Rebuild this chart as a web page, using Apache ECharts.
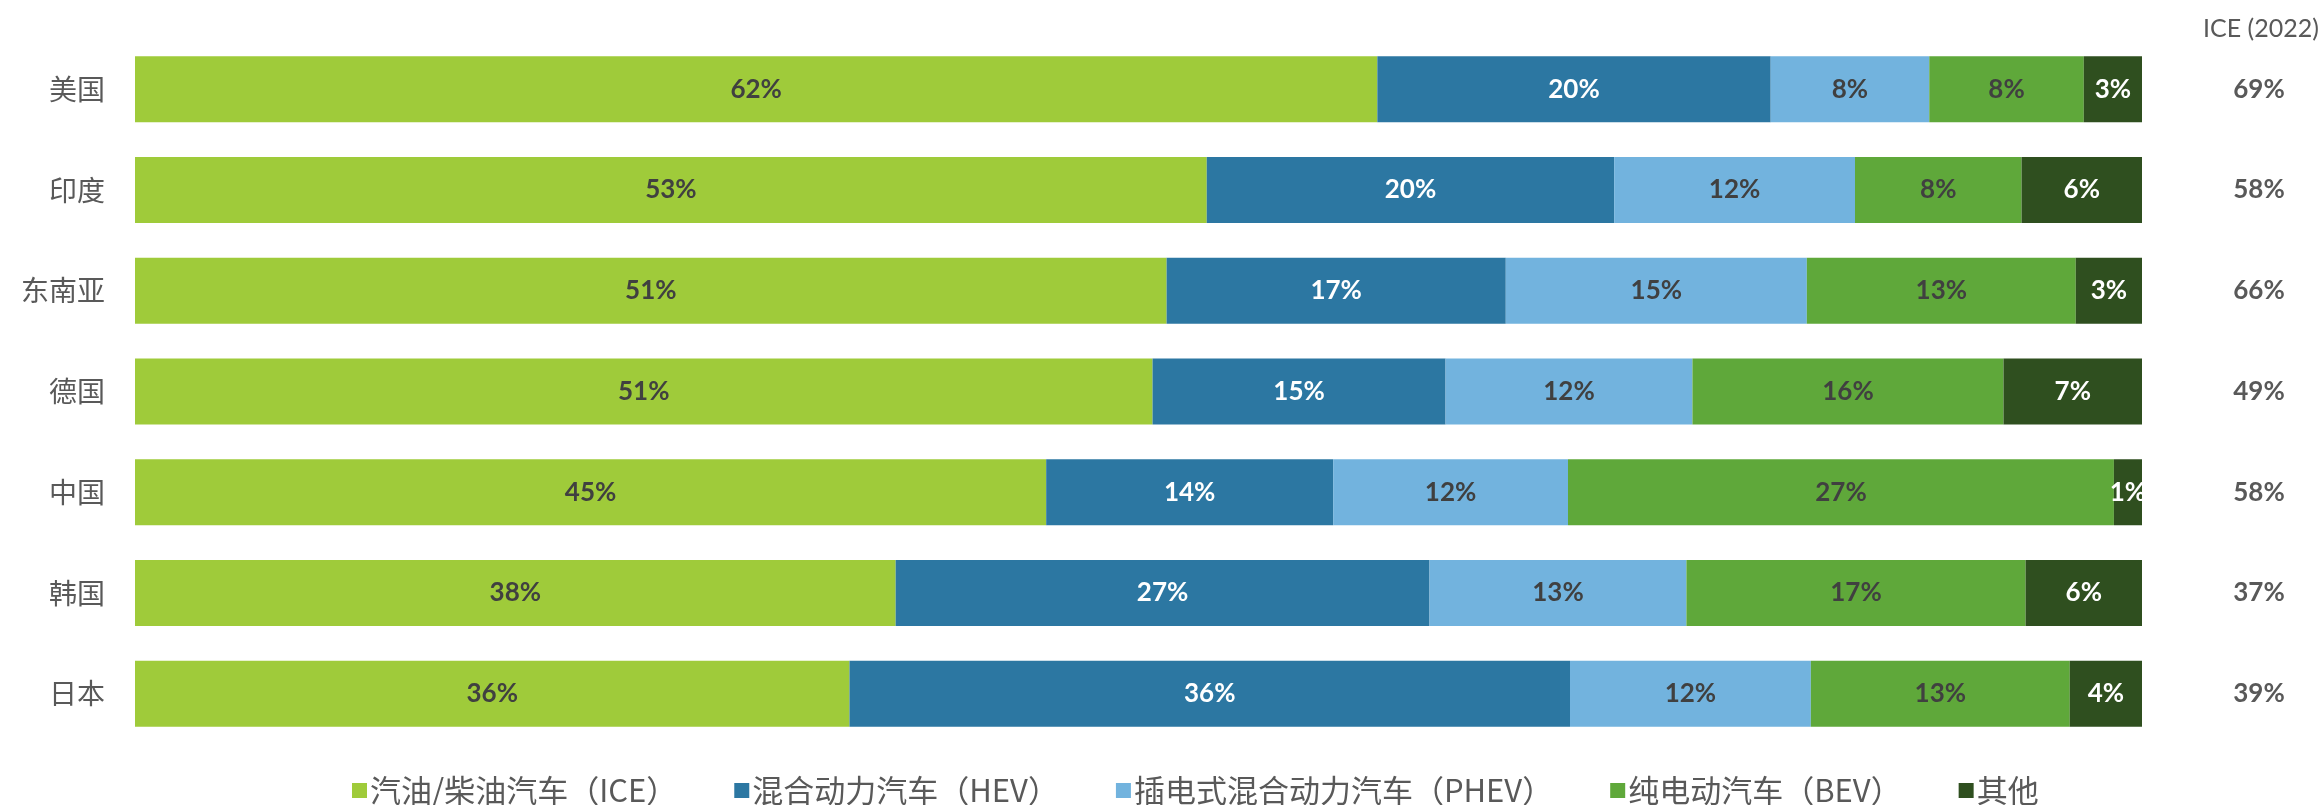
<!DOCTYPE html>
<html>
<head>
<meta charset="utf-8">
<script src="https://cdn.jsdelivr.net/npm/echarts@6/dist/echarts.min.js"></script>
<style>
html,body{margin:0;padding:0;background:#fff;}
#c{width:2318px;height:805px;}
</style>
</head>
<body>
<div id="c"></div>
<script>
const categories = ['美国','印度','东南亚','德国','中国','韩国','日本'];
const seriesNames = ['汽油/柴油汽车（ICE）','混合动力汽车（HEV）','插电式混合动力汽车（PHEV）','纯电动汽车（BEV）','其他'];
const ice   = [61.9, 53.4, 51.4, 50.7, 45.4, 37.9, 35.6];
const hev   = [19.6, 20.3, 16.9, 14.6, 14.3, 26.6, 35.9];
const phev  = [7.9, 12.0, 15.0, 12.3, 11.7, 12.8, 12.0];
const bev   = [7.7, 8.3, 13.4, 15.5, 27.2, 16.9, 12.9];
const other = [2.9, 6.0, 3.3, 6.9, 1.4, 5.8, 3.6];
const ice2022 = [69, 58, 66, 49, 58, 37, 39];
const ice2022Title = 'ICE (2022)';

const colors = ['#9FCB3A', '#2C77A2', '#72B3DE', '#5FA83A', '#2F4F1F'];
const labelColors = ['#404040', '#FFFFFF', '#404040', '#404040', '#FFFFFF'];
const values = [ice, hev, phev, bev, other];

const chart = echarts.init(document.getElementById('c'), null, {renderer: 'canvas'});
const series = values.map((v, i) => ({
  name: seriesNames[i],
  type: 'bar',
  stack: 'total',
  barWidth: 66,
  data: v,
  itemStyle: {color: colors[i]},
  label: {
    show: true,
    position: 'inside',
    color: labelColors[i],
    fontFamily: 'Lato',
    fontWeight: 'bold',
    fontSize: 26,
    formatter: p => Math.round(p.value) + '%'
  },
  emphasis: {disabled: true}
}));

chart.setOption({
  animation: false,
  backgroundColor: '#fff',
  title: {
    text: ice2022Title,
    left: 2256,
    top: 11,
    textAlign: 'center',
    textStyle: {fontFamily: 'Lato', fontWeight: 'normal', fontSize: 25, color: '#595959'}
  },
  legend: {
    data: seriesNames,
    left: 347,
    top: 770,
    padding: 5,
    icon: 'rect',
    itemWidth: 15,
    itemHeight: 15,
    itemGap: 57,
    textStyle: {fontFamily: 'Noto Sans CJK SC', fontSize: 31, color: '#595959', padding: [0,0,0,-2]}
  },
  grid: {left: 135, right: 176, top: 39, height: 705, containLabel: false},
  xAxis: {type: 'value', min: 0, max: 100, show: false},
  yAxis: [
    {
      type: 'category',
      data: categories,
      inverse: true,
      axisLine: {show: false},
      axisTick: {show: false},
      axisLabel: {fontFamily: 'Noto Sans CJK SC', fontSize: 28, color: '#595959', margin: 30}
    },
    {
      type: 'category',
      position: 'right',
      data: ice2022.map(v => v + '%'),
      inverse: true,
      axisLine: {show: false},
      axisTick: {show: false},
      axisLabel: {fontFamily: 'Lato', fontWeight: 'bold', fontSize: 26, color: '#595959', margin: 117, align: 'center'}
    }
  ],
  series: series
});
</script>
</body>
</html>
